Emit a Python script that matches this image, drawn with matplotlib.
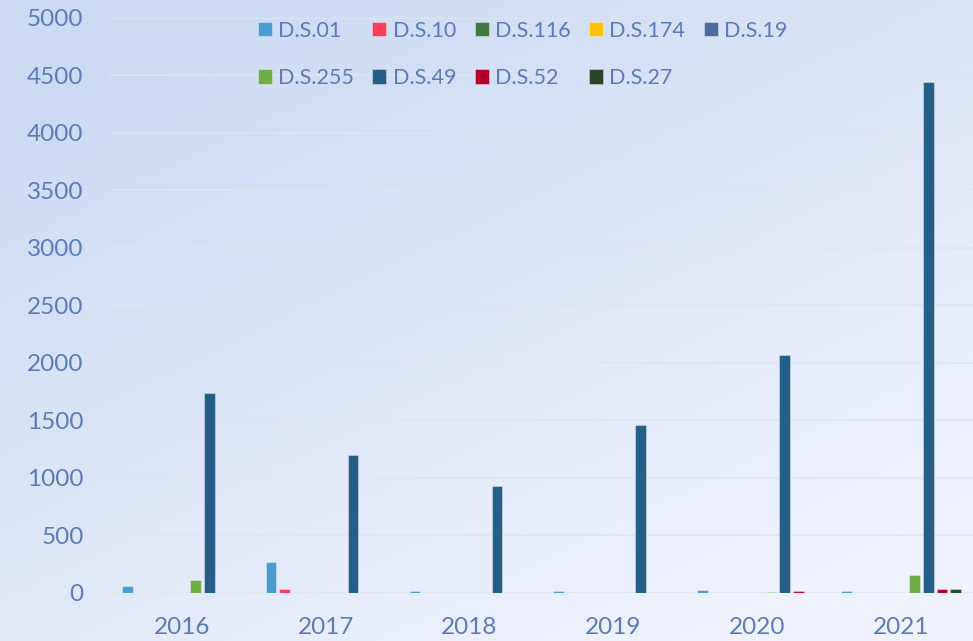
import numpy as np
import matplotlib.pyplot as plt

years = ['2016', '2017', '2018', '2019', '2020', '2021']
series = ['D.S.01', 'D.S.10', 'D.S.116', 'D.S.174', 'D.S.19',
          'D.S.255', 'D.S.49', 'D.S.52', 'D.S.27']

ds01 = [60, 270, 20, 15, 25, 20]
ds10 = [0, 38, 0, 0, 0, 0]
ds116 = [0, 0, 0, 0, 0, 0]
ds174 = [0, 0, 0, 0, 0, 0]
ds19 = [0, 0, 0, 0, 0, 0]
ds255 = [110, 0, 0, 0, 6, 155]
ds49 = [1740, 1200, 930, 1460, 2070, 4440]
ds52 = [0, 0, 0, 0, 15, 30]
ds27 = [0, 0, 0, 0, 0, 30]
values = [ds01, ds10, ds116, ds174, ds19, ds255, ds49, ds52, ds27]

colors = ['#4a9ccf', '#ff3b5c', '#417a41', '#ffc000', '#4c6a9e',
          '#70ad47', '#245d86', '#b2002a', '#264426']
text_color = '#5a7cb9'

plt.rcParams['font.family'] = ['Lato', 'DejaVu Sans']

fig = plt.figure(figsize=(9.73, 6.41), dpi=100)

# soft blue background wash
bg = fig.add_axes([0, 0, 1, 1], zorder=-1)
yy, xx = np.mgrid[0:1:200j, 0:1:300j]
t = np.clip(0.55 * xx + 0.75 * yy - 0.15, 0, 1)
top = np.array([0.80, 0.86, 0.96])
bot = np.array([0.94, 0.95, 0.99])
img = top[None, None, :] * (1 - t[..., None]) + bot[None, None, :] * t[..., None]
bg.imshow(img, aspect='auto', extent=[0, 1, 0, 1], origin='upper')
bg.axis('off')

ax = fig.add_axes([0.113, 0.075, 0.887, 0.897])
ax.patch.set_alpha(0)

x = np.arange(len(years))
slot = 0.095
width = 0.074
bars = []
for j, (name, vals) in enumerate(zip(series, values)):
    b = ax.bar(x + (j - 4) * slot, vals, width, color=colors[j], label=name,
               edgecolor=(1, 1, 1, 0.35), linewidth=0.8, zorder=3)
    bars.append(b)

ax.set_ylim(0, 5000)
ax.set_xlim(-0.5, len(years) - 0.5)
ax.set_yticks(np.arange(0, 5001, 500))
ax.set_xticks(x)
ax.set_xticklabels(years)
ax.tick_params(axis='both', length=0, labelsize=17.5, colors=text_color)
ax.tick_params(axis='y', pad=19)
ax.tick_params(axis='x', pad=17)
ax.yaxis.grid(True, color='#dfe5f0', linewidth=1.2, zorder=0)
ax.set_axisbelow(True)
for s in ax.spines.values():
    s.set_visible(False)

# legend is filled column by column, so reorder to read row by row
order = [0, 5, 1, 6, 2, 7, 3, 8, 4]
leg = ax.legend([bars[i] for i in order], [series[i] for i in order],
                ncol=5, loc='upper center', bbox_to_anchor=(0.478, 1.029),
                frameon=False, fontsize=15.5, labelcolor=text_color,
                handlelength=0.65, handleheight=0.65, handletextpad=0.3,
                columnspacing=0.85, labelspacing=1.28)

fig.savefig('out.png', dpi=100)
